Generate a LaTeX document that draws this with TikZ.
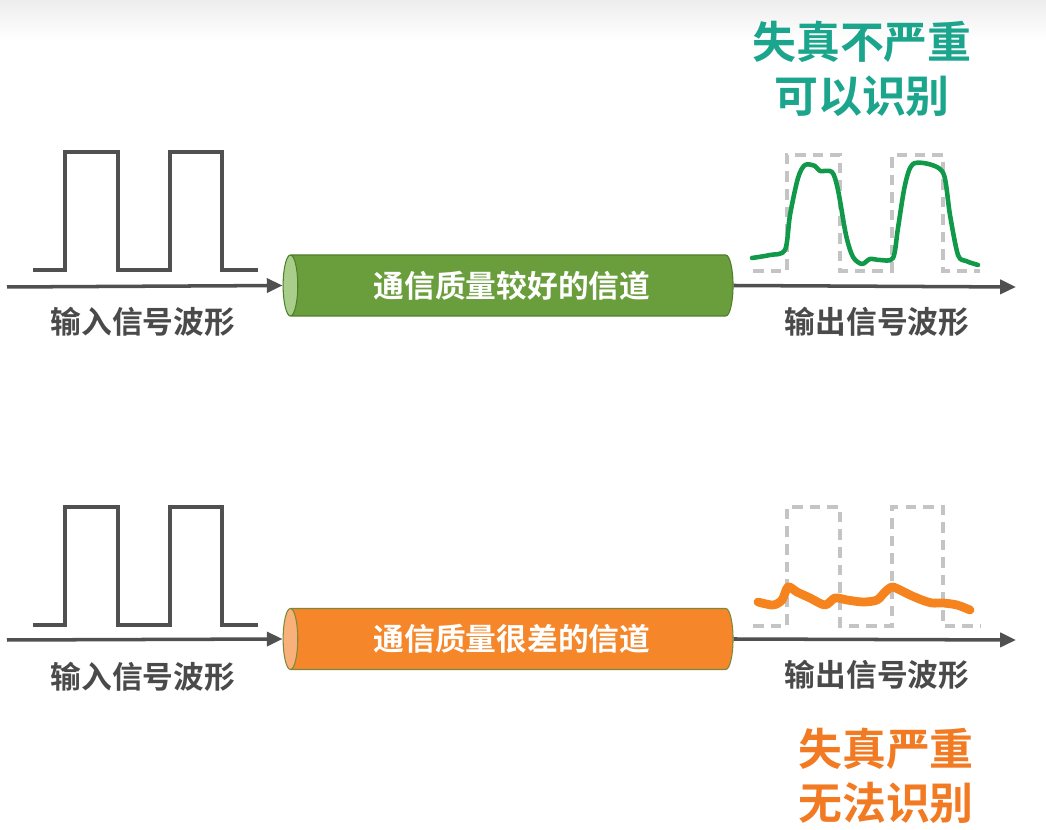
\documentclass[tikz,border=0pt]{standalone}
\usepackage{fontspec}
\newfontfamily\cjk{Noto Sans CJK SC}[BoldFont={Noto Sans CJK SC Bold}]
\usetikzlibrary{positioning,arrows.meta,shapes.geometric}

\definecolor{axisgray}{HTML}{505050}
\definecolor{labelgray}{HTML}{4A4A4A}
\definecolor{ghostgray}{HTML}{C4C4C4}
\definecolor{goodbody}{HTML}{6A9E3C}
\definecolor{goodend}{HTML}{A9CD8B}
\definecolor{goodline}{HTML}{4E7E2A}
\definecolor{badbody}{HTML}{F5862A}
\definecolor{badend}{HTML}{F9B07A}
\definecolor{badline}{HTML}{7A8A3C}
\definecolor{goodwave}{HTML}{11994A}
\definecolor{badwave}{HTML}{F5841F}
\definecolor{teal}{HTML}{1AA58C}
\definecolor{orangetxt}{HTML}{F27A22}

\begin{document}
\begin{tikzpicture}[x=0.02cm, y=-0.02cm,
  >={Triangle[length=9pt,width=8pt]},
  axis/.style={draw=axisgray, line width=2pt},
  pulse/.style={draw=axisgray, line width=2.1pt},
  ghost/.style={draw=ghostgray, line width=2.1pt, dash pattern=on 6pt off 4pt},
  lbl/.style={font=\cjk\bfseries\fontsize{17.5}{20}\selectfont, text=labelgray},
  channel/.style={cylinder, shape border rotate=180, aspect=0.5,
    minimum height=9cm, minimum width=1.22cm, inner sep=0pt,
    line width=0.6pt, cylinder uses custom fill, text=white,
    font=\cjk\bfseries\fontsize{17.5}{20}\selectfont},
  verdict/.style={font=\cjk\bfseries\fontsize{25}{31}\selectfont, align=center}]
  \useasboundingbox (0,0) rectangle (1046,830);
  \shade[top color=black!7, bottom color=white] (0,0) rectangle (1046,40);

  % upper row: good channel
  \draw[pulse] (33,270) -- (65,270) -- (65,152) -- (118,152) -- (118,270)
    -- (170,270) -- (170,152) -- (222,152) -- (222,270) -- (258,270);
  \node[channel, draw=goodline, cylinder body fill=goodbody, cylinder end fill=goodend]
    (good) at (512,285.5) {通信质量较好的信道};
  \coordinate (goodin) at (7,287);
  \coordinate (goodout) at (1016,287);
  \draw[axis,->] (goodin) -- (good.west);
  \draw[axis,->] (good.east) -- (goodout);
  \node[lbl] (inA) at (143,322) {输入信号波形};
  \node[lbl] (outA) at (877,322) {输出信号波形};

  \draw[ghost] (753,271) -- (787,271) -- (787,155) -- (840,155) -- (840,271)
    -- (892,271) -- (892,155) -- (943,155) -- (943,271) -- (980,271);
  \draw[draw=goodwave, line width=2.6pt, line join=round, line cap=round]
    plot[smooth, tension=0.5] coordinates {(752,258) (770,255) (785,250) (790,215)
    (798,178) (805,165) (815,166) (820,171) (832,172) (838,190) (846,235)
    (853,257) (862,264) (870,259) (880,260) (893,258) (898,228) (905,185)
    (913,164) (932,165) (944,175) (950,215) (958,255) (966,261) (978,265)};

  \node[verdict, text=teal] (okA) at (862,69) {失真不严重\\可以识别};

  % lower row: bad channel
  \draw[pulse] (33,625) -- (65,625) -- (65,507) -- (118,507) -- (118,625)
    -- (170,625) -- (170,507) -- (222,507) -- (222,625) -- (258,625);
  \node[channel, draw=badline, cylinder body fill=badbody, cylinder end fill=badend]
    (bad) at (512,639) {通信质量很差的信道};
  \coordinate (badin) at (7,640);
  \coordinate (badout) at (1016,640);
  \draw[axis,->] (badin) -- (bad.west);
  \draw[axis,->] (bad.east) -- (badout);
  \node[lbl] (inB) at (143,677) {输入信号波形};
  \node[lbl] (outB) at (877,675) {输出信号波形};

  \draw[ghost] (753,626) -- (787,626) -- (787,507) -- (840,507) -- (840,626)
    -- (892,626) -- (892,507) -- (943,507) -- (943,626) -- (980,626);
  \draw[draw=badwave, line width=5pt, line join=round, line cap=round]
    plot[smooth, tension=0.5] coordinates {(758,602) (773,605) (782,600) (788,587)
    (797,592) (810,598) (825,605) (835,598) (847,600) (863,602) (877,600)
    (885,592) (892,587) (900,590) (910,595) (922,600) (932,603) (943,603)
    (957,605) (970,610)};

  \node[verdict, text=orangetxt] (badB) at (886,776) {失真严重\\无法识别};
\end{tikzpicture}
\end{document}
